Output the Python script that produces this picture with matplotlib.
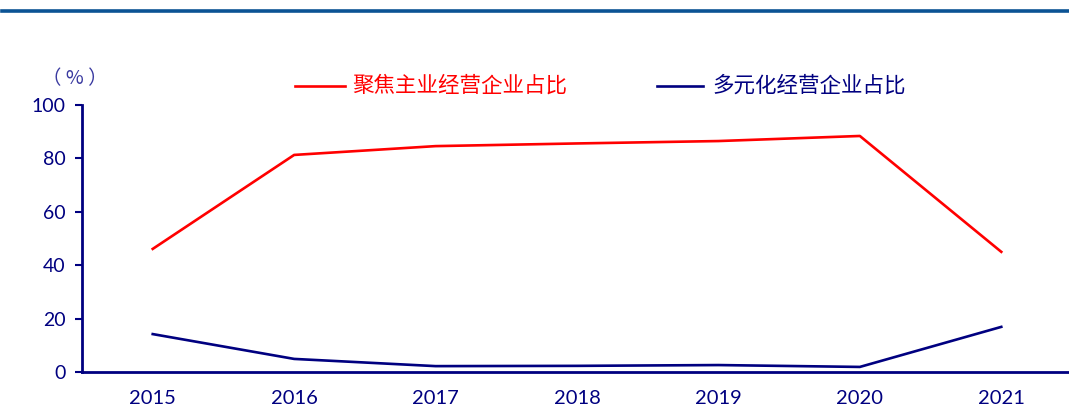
import matplotlib

matplotlib.use("Agg")
import matplotlib.pyplot as plt
from matplotlib.lines import Line2D

years = ["2015", "2016", "2017", "2018", "2019", "2020", "2021"]
focused = [46.1, 81.3, 84.6, 85.6, 86.5, 88.4, 45.0]
diversified = [14.2, 4.9, 2.2, 2.3, 2.6, 1.9, 16.9]
labels = ["聚焦主业经营企业占比", "多元化经营企业占比"]

NAVY = "#000080"
RED = "#FF0000"
W, H = 1069, 407

plt.rcParams["font.family"] = ["Lato", "Noto Sans CJK SC", "DejaVu Sans"]

fig = plt.figure(figsize=(W / 100, H / 100), dpi=100)
ax = fig.add_axes([82 / W, 1 - 372 / H, (1072 - 82) / W, (372 - 105) / H])

x = range(len(years))
ax.plot(x, focused, color=RED, lw=1.9)
ax.plot(x, diversified, color=NAVY, lw=1.9)

ax.set_xlim(-0.5, len(years) - 0.5)
ax.set_ylim(0, 100)
ax.set_yticks(range(0, 101, 20))
ax.set_xticks(list(x))
ax.set_xticklabels(years)
ax.tick_params(axis="y", colors=NAVY, labelsize=14, length=5, width=1.5, direction="out", pad=7)
ax.tick_params(axis="x", colors=NAVY, labelsize=14.5, length=0, pad=13)
for s in ("top", "right"):
    ax.spines[s].set_visible(False)
for s in ("left", "bottom"):
    ax.spines[s].set_color(NAVY)
    ax.spines[s].set_linewidth(2)

# unit label (full-width parens)
fig.text(75 / W, 1 - 79 / H, "（ % ）", color="#3A3AA0", fontsize=14,
         ha="center", va="center", family=["Noto Sans CJK SC", "DejaVu Sans"])

# legend drawn by hand to match placement
for (x0, x1, tx), lab, col in zip([(295, 345, 352), (657, 703, 712)], labels, [RED, NAVY]):
    fig.add_artist(Line2D([x0 / W, x1 / W], [1 - 86 / H] * 2, color=col, lw=1.9,
                          transform=fig.transFigure))
    fig.text(tx / W, 1 - 86 / H, lab, color=col, fontsize=15.5, ha="left", va="center",
             family=["Noto Sans CJK SC", "DejaVu Sans"])

# top rule
fig.add_artist(Line2D([2 / W, 1], [1 - 10.5 / H] * 2, color="#0B5394", lw=2.6,
                      transform=fig.transFigure))

fig.savefig("out.png", dpi=100)
